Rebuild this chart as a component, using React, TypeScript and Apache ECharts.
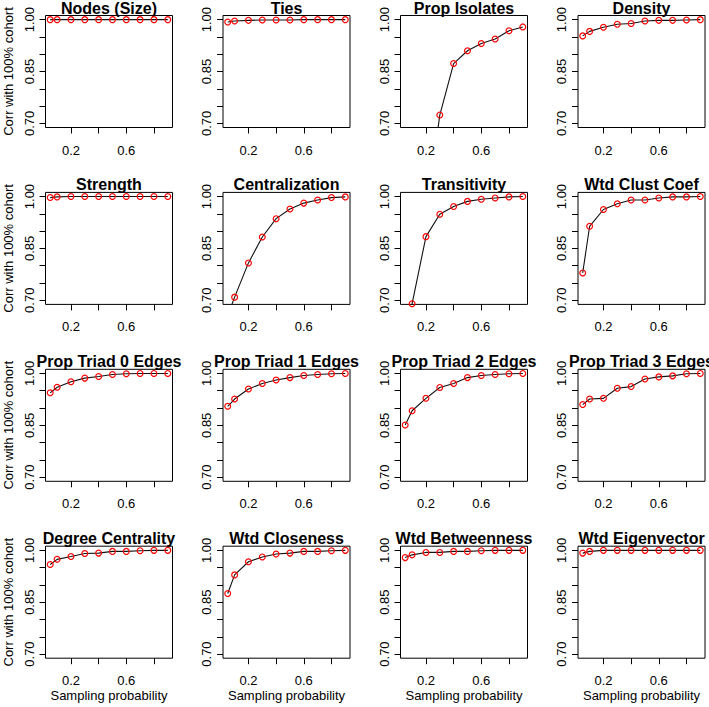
import React, { useEffect, useRef } from 'react';
import * as echarts from 'echarts';

// Sampling probabilities (x values)
const samplingProbability = [0.05, 0.1, 0.2, 0.3, 0.4, 0.5, 0.6, 0.7, 0.8, 0.9];

// Panel titles
const titles = [
  'Nodes (Size)', 'Ties', 'Prop Isolates', 'Density',
  'Strength', 'Centralization', 'Transitivity', 'Wtd Clust Coef',
  'Prop Triad 0 Edges', 'Prop Triad 1 Edges', 'Prop Triad 2 Edges', 'Prop Triad 3 Edges',
  'Degree Centrality', 'Wtd Closeness', 'Wtd Betweenness', 'Wtd Eigenvector',
];

// Correlation with 100% cohort, per metric
const nodesSize = [1, 1, 1, 1, 1, 1, 1, 1, 1, 1];
const ties = [0.993, 0.996, 0.998, 0.999, 0.999, 0.999, 1, 1, 1, 1];
const propIsolates = [0.15, 0.27, 0.43, 0.724, 0.873, 0.91, 0.931, 0.944, 0.968, 0.979];
const density = [0.953, 0.966, 0.978, 0.9865, 0.989, 0.996, 0.998, 0.998, 0.999, 1.0];
const strength = [0.997, 0.999, 1, 1, 1, 1, 1, 1, 1, 1];
const centralization = [0.655, 0.709, 0.808, 0.883, 0.936, 0.964, 0.981, 0.99, 0.997, 0.999];
const transitivity = [0.55, 0.69, 0.884, 0.949, 0.971, 0.986, 0.992, 0.996, 0.999, 1.0];
const wtdClustCoef = [0.779, 0.914, 0.9625, 0.979, 0.99, 0.99, 0.996, 0.999, 0.999, 1.0];
const propTriad0 = [0.944, 0.96, 0.976, 0.9865, 0.991, 0.997, 0.999, 1, 1, 1];
const propTriad1 = [0.905, 0.926, 0.955, 0.971, 0.981, 0.988, 0.994, 0.997, 0.999, 1.0];
const propTriad2 = [0.851, 0.892, 0.928, 0.9595, 0.971, 0.988, 0.994, 0.997, 0.999, 1.0];
const propTriad3 = [0.91, 0.926, 0.928, 0.957, 0.962, 0.984, 0.99, 0.993, 0.999, 1.0];
const degreeCentrality = [0.959, 0.974, 0.982, 0.991, 0.992, 0.997, 0.997, 0.999, 1, 1];
const wtdCloseness = [0.875, 0.929, 0.967, 0.981, 0.9895, 0.992, 0.997, 0.997, 0.999, 1.0];
const wtdBetweenness = [0.979, 0.987, 0.994, 0.994, 0.997, 0.997, 0.999, 1, 1, 1];
const wtdEigenvector = [0.992, 0.997, 1, 1, 1, 1, 1, 1, 1, 1];

const seriesValues = [
  nodesSize, ties, propIsolates, density,
  strength, centralization, transitivity, wtdClustCoef,
  propTriad0, propTriad1, propTriad2, propTriad3,
  degreeCentrality, wtdCloseness, wtdBetweenness, wtdEigenvector,
];

// Tick positions and labels
const xTickValues = [0.2, 0.4, 0.6, 0.8];
const xLabelValues = [0.2, 0.6];
const yTickValues = [0.7, 0.75, 0.8, 0.85, 0.9, 0.95, 1.0];
const yLabelValues = [0.7, 0.85, 1.0];
const xAxisTitle = 'Sampling probability';
const yAxisTitle = 'Corr with 100% cohort';

const FONT = '"Liberation Sans", Arial, Helvetica, sans-serif';

export default function App() {
  const ref = useRef<HTMLDivElement>(null);

  useEffect(() => {
    document.body.style.margin = '0';
    const chart = echarts.init(ref.current!, null, { renderer: 'svg' });

    const X_MIN = 0.016, X_MAX = 0.934;
    const Y_MIN = 0.688, Y_MAX = 1.012;
    const W = 127, H = 112;

    const grids: any[] = [];
    const xAxes: any[] = [];
    const yAxes: any[] = [];
    const series: any[] = [];
    const graphics: any[] = [];

    seriesValues.forEach((values, i) => {
      const r = Math.floor(i / 4);
      const c = i % 4;
      const left = 45.5 + c * 177.5;
      const top = 15.5 + r * 176.9;

      grids.push({
        left, top, width: W, height: H,
        show: true, borderColor: '#000', borderWidth: 1,
        backgroundColor: 'transparent',
        containLabel: false, outerBoundsMode: 'none',
      });

      xAxes.push({
        type: 'value', gridIndex: i, min: X_MIN, max: X_MAX,
        axisLine: { show: false },
        splitLine: { show: false },
        axisTick: { show: true, customValues: xTickValues, length: 6, inside: false, lineStyle: { color: '#000', width: 1 } },
        axisLabel: {
          customValues: xLabelValues, margin: 16, fontSize: 13, color: '#000', fontFamily: FONT,
          formatter: (v: number) => String(Math.round(v * 10) / 10),
        },
        name: r === 3 ? xAxisTitle : '',
        nameLocation: 'middle', nameGap: 31,
        nameTextStyle: { fontSize: 13, color: '#000', fontFamily: FONT },
      });

      yAxes.push({
        type: 'value', gridIndex: i, min: Y_MIN, max: Y_MAX,
        axisLine: { show: false },
        splitLine: { show: false },
        axisTick: { show: true, customValues: yTickValues, length: 6, inside: false, lineStyle: { color: '#000', width: 1 } },
        axisLabel: {
          customValues: yLabelValues, margin: 10, rotate: 90, fontSize: 13, color: '#000', fontFamily: FONT,
          formatter: (v: number) => v.toFixed(2),
        },
        name: c === 0 ? yAxisTitle : '',
        nameLocation: 'middle', nameGap: 31, nameRotate: 90,
        nameTextStyle: { fontSize: 13, color: '#000', fontFamily: FONT },
      });

      series.push({
        type: 'line', xAxisIndex: i, yAxisIndex: i,
        data: samplingProbability.map((x, k) => [x, values[k]]),
        symbol: 'circle', symbolSize: 5.8,
        itemStyle: { color: 'rgba(0,0,0,0)', borderColor: '#ff0000', borderWidth: 1.2 },
        lineStyle: { color: '#111', width: 1.1 },
        clip: true, silent: true,
        emphasis: { disabled: true },
      });

      graphics.push({
        type: 'text',
        x: left + W / 2, y: top + 0.5,
        style: {
          text: titles[i],
          textAlign: 'center', textVerticalAlign: 'bottom',
          font: `bold 16px ${FONT}`, fill: '#000',
        },
      });
    });

    chart.setOption({
      animation: false,
      backgroundColor: '#fff',
      grid: grids,
      xAxis: xAxes,
      yAxis: yAxes,
      series,
      graphic: graphics,
    });

    return () => chart.dispose();
  }, []);

  return (
    <div
      ref={ref}
      style={{ position: 'absolute', left: 0, top: 0, width: 709, height: 707 }}
    />
  );
}
